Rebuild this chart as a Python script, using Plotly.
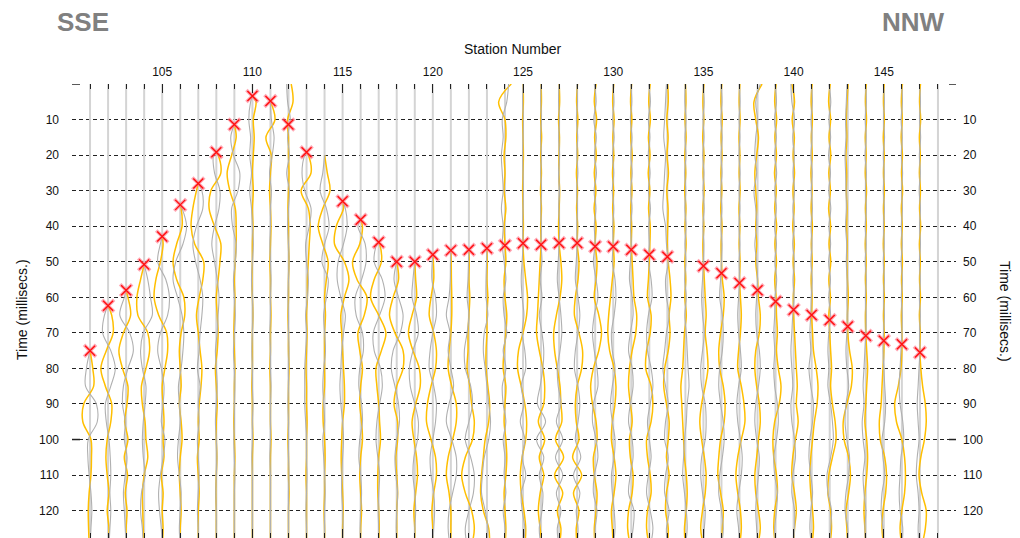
import plotly.graph_objects as go

# ---------------------------------------------------------------------------
# Seismic refraction record: station numbers, first-break picks and the
# trace amplitudes (percent of one station spacing) sampled every 5 ms.
# ---------------------------------------------------------------------------
T_GRID = list(range(0, 135, 5))            # 0 ... 130 ms
STATIONS = list(range(101, 148))           # stations carrying a trace
BASELINES = list(range(101, 149))          # every receiver position
X_TICKS = list(range(105, 150, 5))
Y_TICKS = list(range(10, 130, 10))

PICK_TIMES = [75, 62.4, 58, 50.8, 42.9, 34, 28, 19.2, 11.4, 3.4,
              4.8, 11.4, 19.2, None, 33, 38.2, 44.5, 50, 50, 48,
              46.8, 46.6, 46.2, 45.4, 44.8, 45.2, 44.7, 44.7, 45.7, 45.7,
              46.6, 48, 48.6, None, 51.2, 53.2, 56, 58, 61.2, 63.5,
              65, 66.4, 68.2, 70.8, 72.2, 73.2, 75.5]

YELLOW = {
    101: [0]*15 + [0, 15, 20, -35, -40, 5, 8, 5, -5, -10, -8, -5],
    102: [0]*13 + [20, 28, -10, -40, -15, 20, 15, -5, -12, -5, 5, -5, 5, 0],
    103: [0]*12 + [10, 25, -15, -40, -20, 10, 5, -8, 10, -10, 8, -5, 5, 0, 0],
    104: [0]*11 + [-20, -40, -35, 20, 30, 10, -15, -10, 5, 10, 20, 0, -10, -8, -5, 0],
    105: [0]*9 + [5, -10, -35, -45, -20, 25, 30, 15, 0, 5, 10, 5, 10, -5, 5, 0, 5, 0],
    106: [0]*7 + [5, 10, -20, -40, -20, 20, 25, 5, -5, 0, 5, -5, 5, 10, 0, -5, 0, 5, 0, 0],
    107: [0]*6 + [-10, -30, -40, -20, 30, 25, 5, -10, 0, 10, 20, 15, 5, 0, 5, -5, 0, 5, 0, 0, 0],
    108: [0]*4 + [10, 25, -30, -40, -10, 25, 20, 10, 0, 5, 10, 5, -5, 0, 5, 0, 0, 3, 0, -3, 0, 0, 0],
    109: [0]*3 + [10, -15, -40, -25, 5, 10, 10, 5, 0, 3, 0, -3, 0, 3, 0, 0, -3, 0, 3, 0, 0, 0, 0, 0],
    110: [0] + [20, 5, 10, 5, 0, 5, 0, 3, 0, 0, -3, 0, 3, 0, 0, 0, -3, 0, 0, 3, 0, 0, 0, 0, 0, 0],
    111: [0, 0, 25, -25, 5, 0, -5, 0, 3, 0, -3, 0, 0, 3, 0, 0, -3, 0, 0, 0, 3, 0, 0, 0, 0, 0, 0],
    112: [15, 25, -5, 0, 0, 3, 0, -3, 0, 0, 3, 0, 0, -3, 0, 0, 3, 0, 0, 0, -3, 0, 0, 3, 0, 0, 0],
    113: [0]*4 + [10, 25, -30, 10, 20, 15, 10, 5, 5, 0, 3, 0, -3, 0, 0, 3, 0, 0, -3, 0, 0, 0, 0],
    114: [0]*5 + [15, 30, -10, -35, -10, 20, 10, 0, 5, 0, 0, 0, 0, -8, -8, 0, 3, 0, 0, -3, 0, 0],
    115: [0]*7 + [5, -35, -45, 10, 35, 10, -10, -5, 0, 5, 10, 10, 0, -5, -8, -5, 0, 3, 0, 0],
    116: [0]*8 + [10, -5, -45, -20, 35, 20, -15, -5, 10, 0, -5, 5, 10, 0, -5, 0, 5, 0, 0],
    117: [0]*9 + [5, 15, -25, -45, 0, 40, 15, -15, -10, 0, 5, 10, 0, -5, -5, 0, 3, 0],
    118: [0]*11 + [10, -20, -40, -10, 35, 35, 0, -15, 5, 5, -5, 0, 5, 0, 0, 0],
    119: [0]*11 + [5, 10, -15, -35, -10, 25, 30, 5, -15, -5, 10, 15, 5, -5, 0, 0],
    120: [0]*10 + [3, 5, -10, -20, 5, 20, 15, -10, -30, -35, -10, 15, 20, 5, -5, 0, 0],
    121: [0]*10 + [2, 3, 5, 5, 0, -10, -15, 5, 30, 30, 10, -15, -25, -10, 0, 0, 0],
    122: [0]*10 + [2, 0, 5, 0, -5, -5, -10, 5, 15, 30, 20, -20, -40, -20, 15, 30, 15],
    123: [0]*10 + [2, 0, 5, 0, 0, -5, -5, 5, 15, 10, -10, -20, -30, -35, -20, 10, 15],
    124: [35, -35, 0, 5, -5, 0, -5, 5, -5, 0, 5, -5, 0, 10, 5, -5, -10, 5, 0, -5, 5, 10, 5, -5, 0, 5, 0],
    125: [0, 2, -2, 0, 2, 0, -2, 0, 2, 0] + [5, 15, 25, 20, 0, -25, -30, -10, 10, 20, 15, -5, -15, -10, 5, 15, 10],
    126: [0, 2, -2, 3, -2, 2, -3, 2, -2, 0] + [-5, -10, -15, -20, -25, -10, 10, 20, 15, -15, 20, -10, 15, -5, -15, -5, 5],
    127: [0, 3, -3, 2, 0, -2, 3, 0, -3, 0] + [10, 15, 5, -15, -30, -25, -10, 5, 10, 15, -20, 25, -25, 20, -10, 10, 0],
    128: [2, -3, 4, -2, 3, -4, 2, -3, 3, 0] + [10, 5, -10, -15, 10, 30, 25, 0, -10, -5, 10, -25, 25, -20, 10, -5, 0],
    129: [5, -5, 8, -3, 6, -5, 4, -6, 5, 0] + [10, 5, -5, 20, 35, 20, -10, -25, -15, 5, 10, -10, -5, 10, 5, -5, 0],
    130: [3, -3, 5, -2, 3, -4, 2, -3, 4, 0] + [5, -5, -15, -25, -30, -20, 5, 15, 10, -5, -10, 5, 15, 5, -10, -5, 0],
    131: [2, -4, 3, -3, 5, -2, 4, -3, 2, 0] + [5, 10, 15, 30, 25, 5, -10, -15, -5, 5, -10, -5, 10, 5, -15, -20, -5],
    132: [5, -3, 6, -5, 4, -6, 3, -4, 5, 3] + [0, -5, -10, 10, 5, -15, -20, 10, 20, 10, -15, -10, 5, 10, -10, -15, 0],
    133: [2, 5, -3, 4, -2, 6, -3, 4, 2, 0] + [5, 15, 20, 10, 15, 5, -15, -20, -5, 10, 5, -5, 10, -5, -10, 5, 0],
    134: [0, 3, -2, 4, -3, 2, -4, 3, -2, 4, -3, 2, -3, 5, -5, -10, -15, -25, -20, -15, -10, -5, 5, 10, 5, -5, 0],
    135: [3, -3, 2, -4, 3, -2, 4, -3, 2, -3] + [0, 5, 10, 15, 10, 20, 25, 10, -10, -20, -10, 5, 15, 10, -5, -15, 0],
    136: [2, -3, 4, -2, 3, -3, 2, -4, 3, -2] + [0, 5, 15, 10, -5, -15, -10, 10, 20, 15, -5, -15, -20, -5, 10, 5, 0],
    137: [2, -2, 3, -3, 2, -2, 3, -3, 2, -2, 3] + [0, 5, 10, 5, -5, -10, 10, 25, 30, 10, -10, -20, -10, 5, 10, 0],
    138: [25, -20, -10, 5, -5, -15, -10, -5, -10, -5, -10, 0] + [5, 15, 10, -10, -15, -5, 10, 15, 5, -5, -15, -10, 5, 15, 0],
    139: [3, -5, 6, -4, 5, -6, 4, -5, 6, -4, 5, -5, 3] + [5, 10, 5, 15, 30, 20, -5, -15, -10, 5, 10, -5, -10, 0],
    140: [-10, 5, -8, 4, -3, 5, -4, 3, -5, 4, -3, 5, -2] + [0, 5, 10, 15, 20, 15, 25, 10, -5, -10, 5, 15, 5, 0],
    141: [3, -3, 4, -2, 3, -4, 2, -3, 4, -2, 3, -3, 2] + [0, 5, 10, 25, 35, 30, 15, 5, -5, -10, -5, 5, 10, 0],
    142: [3, -6, 5, -4, 6, -5, 4, -6, 5, -4, 6, -5, 4, -5] + [0, 5, 10, 5, 15, 30, 35, 15, -5, -10, 5, 10, 0],
    143: [2, -4, -8, -5, -10, -6, -8, -4, -6, -3, -5, -2, 3, -2] + [0, 10, 25, 20, -5, -25, -20, 5, 15, 5, -10, -5, 0],
    144: [3, -2, 4, -3, 2, -3, 4, -2, 3, -3, 2, -2, 3, -2, 0] + [5, 10, 5, 0, -5, 5, 10, 5, -5, -10, -5, 0],
    145: [2, -2, 3, -3, 2, -2, 3, -2, 2, -3, 2, -2, 3, -2, 2] + [0, -5, -10, -15, -25, -20, 5, 15, 10, -5, -10, 0],
    146: [3, -3, 2, -4, 3, -2, 4, -3, 2, -3, 3, -2, 2, -3, 0] + [0, -5, -20, -40, -30, 0, 15, 20, 15, 0, -10, 0],
    147: [3, -2, 4, -3, 2, -3, 3, -2, 4, -3, 2, -2, 3, -3, 2, 0] + [5, 15, 30, 35, 25, 5, -5, 10, 35, 30, 10],
}

GRAY = {
    101: [0]*15 + [0, -20, -25, 35, 40, -10, -12, -5, 5, 10, 5, 0],
    102: [0]*13 + [-20, -30, 15, 40, 15, -15, -10, 5, 12, 15, 10, 15, 10, 5],
    103: [0]*12 + [-10, -35, 20, 40, 10, -15, -20, -5, -10, 5, -5, -15, -10, -5, 0],
    104: [0]*11 + [20, 35, 45, -5, -20, -10, 10, 5, -5, -10, -5, 5, -15, -20, -10, -5],
    105: [0]*9 + [-10, -25, 20, 40, 30, -10, -25, -5, 10, 5, -5, 15, 5, -10, -20, -15, -5, 0],
    106: [0]*7 + [10, 35, 15, -25, -40, -15, 10, 20, 15, 5, -10, -5, 0, -10, -15, -5, 5, 0, -5, 0],
    107: [0]*6 + [20, 25, -10, -30, -15, 10, 25, 20, 10, 5, -5, 10, 0, 5, -5, 0, 5, 0, -5, 0, 0],
    108: [0]*4 + [-15, -10, 20, 15, -10, -25, -10, 5, 15, 10, 5, -5, 0, 5, 0, -5, 0, 3, 0, -3, 0, 0, 0],
    109: [0]*3 + [-20, -5, 30, 20, -15, -10, 10, 5, -5, 0, 5, 0, -5, 0, 3, 0, 0, -3, 0, 3, 0, 0, 0, 0],
    110: [0] + [-10, -20, -10, -15, -5, -15, -5, 0, 5, 0, -5, 0, 3, 0, -3, 0, 0, 3, 0, 0, -3, 0, 0, 0, 0, 0],
    111: [0, 0, 5, 20, 10, -5, 5, 0, 0, -3, 0, 3, 0, 0, -3, 0, 0, 3, 0, 0, 0, -3, 0, 0, 0, 0, 0],
    112: [-10, -5, 10, -5, 5, -10, 5, 0, -5, 0, 3, 0, -3, 0, 0, 3, 0, 0, -3, 0, 0, 0, 3, 0, 0, 0, 0],
    113: [0]*4 + [-10, -25, -10, 25, 15, -5, 0, 10, 5, -5, 0, -5, -10, -10, -10, -5, 0, 0, 3, 0, -3, 0, 0],
    114: [0]*5 + [-10, -25, 10, 25, 0, -15, 20, 10, -5, 0, 5, -5, -10, -5, 0, -10, -5, 0, 3, 0, 0, 0],
    115: [0]*7 + [15, 25, 5, -25, -30, -10, 15, 5, -5, -10, -15, -10, 0, 5, 0, -5, -5, 0, 3, 0],
    116: [0]*8 + [-15, 25, 30, 5, -30, -25, 10, 15, -5, -10, 5, 10, -5, -10, 0, 5, 0, -3, 0],
    117: [0]*9 + [-10, -25, 20, 35, 5, -30, -25, 10, 20, 5, -10, -15, -5, 5, 0, -3, 0, 0],
    118: [0]*11 + [-15, 10, 35, 20, -20, -30, -10, 10, 15, 0, -10, -5, 5, 0, -3, 0],
    119: [0]*11 + [-10, -15, 10, 20, -10, -30, -25, 0, 20, 15, -5, -10, 0, 5, 0, 0],
    120: [0]*10 + [-3, -5, 15, 20, 0, -15, -20, 5, 20, 15, 0, -15, -10, 5, 10, 5, 0],
    121: [0]*10 + [-2, -3, -10, -25, -5, -15, 0, 15, -10, -25, 5, 30, 30, 10, -10, -15, -5],
    122: [0]*10 + [-2, -5, -10, 0, -10, -25, -20, 10, 20, 0, -20, 10, 30, 25, 0, -20, -10],
    123: [0]*10 + [-2, -5, -5, 5, -15, -20, -10, 0, 10, 20, 10, -15, -25, -30, -10, 5, 0],
    124: [20, 10, -15, -10, -20, -15, -10, -20, -10, -15, -5, 5, -10, -5, 10, -10, 5, -15, -10, 5, -10, 0, -5, 5, -10, 0, -5],
    125: [0, -2, 2, 0, -2, 0, 2, 0, -2, 0] + [-5, -10, -5, 5, -5, 10, 15, -10, 5, -15, 10, -5, 15, -10, -5, 10, 0],
    126: [0, -2, 2, -3, 2, -2, 3, -2, 2, 0] + [5, -5, 5, -10, 5, 15, 10, -5, -20, 25, -25, 15, -10, 10, 5, -10, 0],
    127: [0, -3, 2, -2, 3, -3, 2, -2, 3, 0] + [-5, -10, 0, 10, 15, 5, -10, -5, 10, -15, 20, -20, 20, -15, 10, -10, 0],
    128: [-3, 2, -4, 3, -2, 4, -3, 2, -2, 0] + [-5, -10, 5, 15, 5, -10, -15, 5, 15, 5, -10, 20, -20, 15, -5, 5, 0],
    129: [-5, 5, -8, 6, -4, 7, -6, 4, -5, 0] + [-10, 5, 15, -5, -15, -5, 10, 15, -10, -15, 5, 15, -5, -10, 10, 0, 0],
    130: [-3, 4, -3, 5, -4, 3, -5, 3, -3, 0] + [-5, 10, 15, 5, -10, -5, 10, -5, -15, -5, 10, 5, -10, -5, 5, 10, 0],
    131: [-3, 3, -5, 4, -2, 5, -3, 4, -4, 0] + [-5, -10, 5, 10, -5, -15, 5, 10, -5, -15, 5, 10, -5, -15, 15, 10, -5],
    132: [-4, 6, -5, 3, -6, 4, -5, 6, -3, 0] + [-5, 10, 15, -5, -15, -10, 10, 20, 5, -10, 0, 10, -5, -15, 5, 20, 5],
    133: [-5, -10, -15, -20, -10, -15, -20, -25, -10, -5] + [5, -10, -5, 10, -5, -15, -25, -10, 5, -10, -15, 5, -10, -15, 10, -5, 0],
    134: [0, -3, 4, -2, 3, -4, 2, -3, 4, -2, 3, -4, 5, -3, 5, 10, 15, 20, 10, 5, -5, -10, -15, -5, 5, 10, 0],
    135: [-3, 4, -2, 3, -4, 3, -2, 4, -3, 2] + [0, -5, -10, -5, 5, -5, -15, -10, 10, 15, 10, -10, -15, -5, 10, 5, 0],
    136: [-2, 3, -3, 4, -2, 3, -4, 2, -3, 3] + [0, -5, -10, 5, 10, 5, -10, -15, -5, 10, 15, 5, -10, -15, 0, 10, 0],
    137: [-2, 3, -2, 2, -3, 3, -2, 2, -3, 2, -2] + [0, -5, -10, -5, 5, 10, -5, -15, -10, 5, 15, 10, -5, -15, -5, 0],
    138: [15, -10, 0, -10, -15, -5, -20, -10, -5, -15, -5, 0] + [-5, -10, -5, 10, 15, 5, -10, -15, -5, 10, 5, -5, -10, -5, 0],
    139: [-4, 5, -6, 4, -5, 6, -5, 4, -6, 5, -4, 6, -3] + [-5, -10, -5, -10, -5, 10, 15, 5, -10, -5, 10, 5, -5, 0],
    140: [-15, -10, 5, -5, 4, -3, 5, -4, 3, -5, 4, -3, 2] + [-5, -10, -15, -10, -5, -15, -10, 5, 10, -5, -10, 5, 5, 0],
    141: [-2, 4, -3, 2, -4, 3, -2, 4, -3, 2, -4, 3, -2] + [-5, -10, -5, -15, -5, 10, 5, -10, -15, -5, 5, -5, -10, 0],
    142: [-5, 6, -4, 5, -6, 4, -5, 6, -4, 5, -6, 4, -5, 5] + [-5, -10, -5, -10, 5, 15, 20, 5, -15, -10, 10, 5, 0],
    143: [-4, -8, -12, -10, -15, -12, -10, -8, -12, -6, -8, -4, -5, -3] + [-5, -10, -5, 5, -10, -15, -5, 10, 5, -10, -15, 0, 0],
    144: [-2, 3, -3, 2, -4, 3, -2, 3, -3, 2, -3, 3, -2, 2, 0] + [-5, -10, -15, -10, -20, -15, -5, -15, -10, 0, -5, 0],
    145: [-3, 3, -2, 4, -3, 2, -3, 3, -2, 2, -3, 3, -2, 3, -2] + [-5, 0, 5, 10, 5, -10, -5, 5, -10, -15, -5, 0],
    146: [-2, 3, -4, 2, -3, 4, -2, 3, -3, 2, -4, 3, -3, 2, 0] + [-5, -10, -15, -10, 5, 10, -5, -10, -15, -10, 5, 0],
    147: [-3, 3, -2, 4, -3, 2, -4, 3, -2, 3, -3, 2, -3, 2, -2, 0] + [-5, -10, -15, -10, -5, -15, -20, -10, -5, -10, -5],
}

# ---------------------------------------------------------------------------
# Geometry of the figure
# ---------------------------------------------------------------------------
WIDTH, HEIGHT = 1020, 538
MARGIN = dict(l=72, r=64, t=84, b=0)
X_RANGE = [100, 149]
T_MAX = 127.7
FONT = "Liberation Sans, Arial, sans-serif"
YELLOW_COLOR = "#ffbf00"
GRAY_COLOR = "#b0b0b0"


def paper_x(px):
    return (px - MARGIN["l"]) / (WIDTH - MARGIN["l"] - MARGIN["r"])


def paper_y(py):
    return (HEIGHT - MARGIN["b"] - py) / (HEIGHT - MARGIN["t"] - MARGIN["b"])


def wiggle(station, amps, pick):
    """Trace samples -> (x, t); the trace begins at its onset (or first break)."""
    nonzero = [i for i, a in enumerate(amps) if a != 0]
    if not nonzero:
        return [], []
    i0 = nonzero[0]
    ts = T_GRID[i0:]
    vs = amps[i0:]
    if i0 > 0:
        t_start = T_GRID[i0 - 1]
        if pick is not None and t_start < pick < T_GRID[i0]:
            t_start = pick
        ts = [t_start] + ts
        vs = [0] + vs
    return [station + v / 100.0 for v in vs], list(ts)


def collect(amp_table):
    xs, ts = [], []
    for station, pick in zip(STATIONS, PICK_TIMES, strict=True):
        amps = amp_table[station]
        assert len(amps) == len(T_GRID), station
        x, t = wiggle(station, amps, pick)
        xs += x + [None]
        ts += t + [None]
    return xs, ts


fig = go.Figure()

# receiver baselines
base_x, base_t = [], []
for s in BASELINES:
    base_x += [s, s, None]
    base_t += [0, T_MAX, None]
fig.add_trace(go.Scatter(x=base_x, y=base_t, mode="lines",
                         line=dict(color="#d4d4d4", width=2), hoverinfo="skip"))

# wiggle traces: yellow first, grey drawn over it
yx, yt = collect(YELLOW)
gx, gt = collect(GRAY)
fig.add_trace(go.Scatter(x=yx, y=yt, mode="lines",
                         line=dict(color=YELLOW_COLOR, width=1.5, shape="spline", smoothing=1.0),
                         connectgaps=False, hoverinfo="skip"))
fig.add_trace(go.Scatter(x=gx, y=gt, mode="lines",
                         line=dict(color=GRAY_COLOR, width=1.1, shape="spline", smoothing=1.0),
                         connectgaps=False, hoverinfo="skip"))

# first-break picks
pick_x = [s for s, p in zip(STATIONS, PICK_TIMES) if p is not None]
pick_t = [p for p in PICK_TIMES if p is not None]
fig.add_trace(go.Scatter(x=pick_x, y=pick_t, mode="markers", yaxis="y2",
                         marker=dict(symbol="x-thin", size=12,
                                     line=dict(color="rgba(255,120,140,0.65)", width=3.5))))
fig.add_trace(go.Scatter(x=pick_x, y=pick_t, mode="markers", yaxis="y2",
                         marker=dict(symbol="x-thin", size=10,
                                     line=dict(color="#ff1010", width=1.4))))

tick_font = dict(family=FONT, size=12, color="#111111")

fig.update_layout(
    width=WIDTH, height=HEIGHT, margin=MARGIN,
    paper_bgcolor="white", plot_bgcolor="white", showlegend=False,
    font=dict(family=FONT, size=12, color="#111111"),
    xaxis=dict(
        range=X_RANGE, side="top", tickmode="array", tickvals=X_TICKS,
        ticks="inside", ticklen=9, tickwidth=1, tickcolor="#222222",
        mirror="ticks", showline=False, showgrid=False, zeroline=False,
        tickfont=tick_font, ticklabelstandoff=5,
        minor=dict(tickmode="linear", tick0=100, dtick=1, ticks="inside",
                   ticklen=5, tickwidth=1, tickcolor="#222222", showgrid=False),
    ),
    yaxis=dict(
        range=[T_MAX, 0], tickmode="array", tickvals=Y_TICKS, ticks="",
        showgrid=True, gridcolor="#222222", gridwidth=1, griddash="4px,3px",
        zeroline=False, showline=False, tickfont=tick_font, ticklabelstandoff=12,
    ),
    yaxis2=dict(
        range=[T_MAX, 0], overlaying="y", side="right", tickmode="array",
        tickvals=Y_TICKS, ticks="", showgrid=False, zeroline=False, showline=False,
        tickfont=tick_font, ticklabelstandoff=6,
    ),
)

# solid axis ticks at 0 ms and 100 ms on both sides
for t in (0, 100):
    fig.add_shape(type="line", xref="x", yref="y", xsizemode="pixel", xanchor=X_RANGE[0],
                  x0=0, x1=8, y0=t, y1=t, line=dict(color="#222222", width=1.5))
    fig.add_shape(type="line", xref="x", yref="y", xsizemode="pixel", xanchor=X_RANGE[1],
                  x0=-7, x1=0, y0=t, y1=t, line=dict(color="#222222", width=1.5))

title_font = dict(family=FONT, size=14, color="#111111")
heading_font = dict(family=FONT, size=26, color="#808080")

fig.add_annotation(text="<b>SSE</b>", xref="paper", yref="paper", x=paper_x(55), y=paper_y(22),
                   xanchor="left", yanchor="middle", showarrow=False, font=heading_font)
fig.add_annotation(text="<b>NNW</b>", xref="paper", yref="paper", x=paper_x(947), y=paper_y(22),
                   xanchor="right", yanchor="middle", showarrow=False, font=heading_font)
fig.add_annotation(text="Station Number", xref="paper", yref="paper", x=paper_x(513), y=paper_y(49),
                   xanchor="center", yanchor="middle", showarrow=False, font=title_font)
fig.add_annotation(text="Time (millisecs.)", xref="paper", yref="paper", x=paper_x(22), y=paper_y(310),
                   xanchor="center", yanchor="middle", showarrow=False, textangle=-90, font=title_font)
fig.add_annotation(text="Time (millisecs.)", xref="paper", yref="paper", x=paper_x(1005), y=paper_y(311),
                   xanchor="center", yanchor="middle", showarrow=False, textangle=90, font=title_font)

fig.write_html("out.html")
